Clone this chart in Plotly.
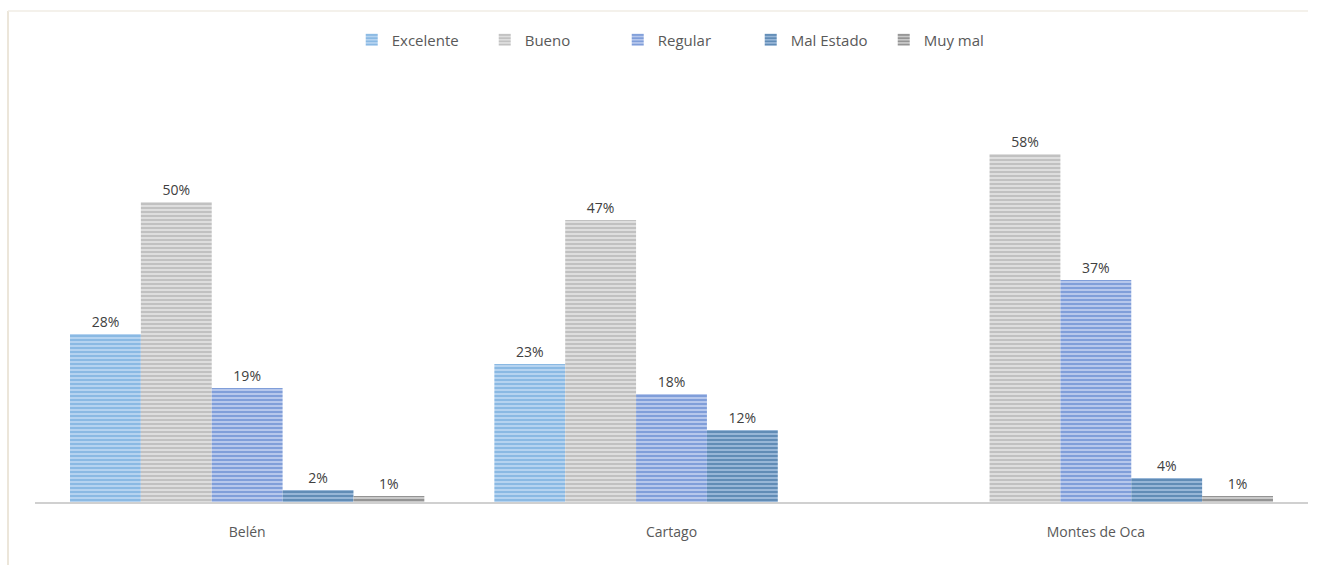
import plotly.graph_objects as go

# Survey results by canton (percent of respondents)
cantones = ["Belén", "Cartago", "Montes de Oca"]
excelente = [28, 23, None]
bueno = [50, 47, 58]
regular = [19, 18, 37]
mal_estado = [2, 12, 4]
muy_mal = [1, None, 1]

series = [
    ("Excelente", excelente, "#5b9bd5", "#b9d6f1"),
    ("Bueno", bueno, "#a0a0a0", "#e2e2e2"),
    ("Regular", regular, "#4472c4", "#bccbee"),
    ("Mal Estado", mal_estado, "#255e91", "#9dbada"),
    ("Muy mal", muy_mal, "#5a5a5a", "#cfcfcf"),
]

fig = go.Figure()
for name, vals, fg, bg in series:
    fig.add_trace(go.Bar(
        name=name,
        x=cantones,
        y=vals,
        marker=dict(
            color=bg,
            line=dict(width=0),
            pattern=dict(shape="-", fgcolor=fg, bgcolor=bg, size=4, solidity=0.55),
        ),
        text=[f"{v}%" if v is not None else "" for v in vals],
        textposition="outside",
        textfont=dict(family="Open Sans", size=14, color="#404040"),
        cliponaxis=False,
    ))

fig.update_layout(
    width=1322,
    height=565,
    margin=dict(l=35, r=14, t=82, b=63),
    paper_bgcolor="white",
    plot_bgcolor="white",
    barmode="group",
    bargap=0.165,
    bargroupgap=0,
    font=dict(family="Open Sans", size=14, color="#595959"),
    legend=dict(
        orientation="h",
        x=0.51, xanchor="center",
        y=1.1, yanchor="middle",
        font=dict(family="Open Sans", size=15, color="#595959"),
        itemwidth=30,
        entrywidth=88,
        traceorder="normal",
    ),
    xaxis=dict(
        showline=True, linecolor="#d0d0d0", linewidth=1.5,
        ticks="", showgrid=False,
        ticklabelstandoff=16,
        tickfont=dict(family="Open Sans", size=14, color="#595959"),
    ),
    yaxis=dict(
        range=[0, 70], visible=False, showgrid=False, zeroline=False,
    ),
    shapes=[
        dict(type="line", xref="paper", yref="paper",
             x0=-0.0212, x1=-0.0212, y0=-0.15, y1=1.169,
             line=dict(color="#ece6da", width=2)),
        dict(type="line", xref="paper", yref="paper",
             x0=-0.0212, x1=1.0, y0=1.169, y1=1.169,
             line=dict(color="#f1ede4", width=1.5)),
    ],
)

fig.write_html("out.html")
